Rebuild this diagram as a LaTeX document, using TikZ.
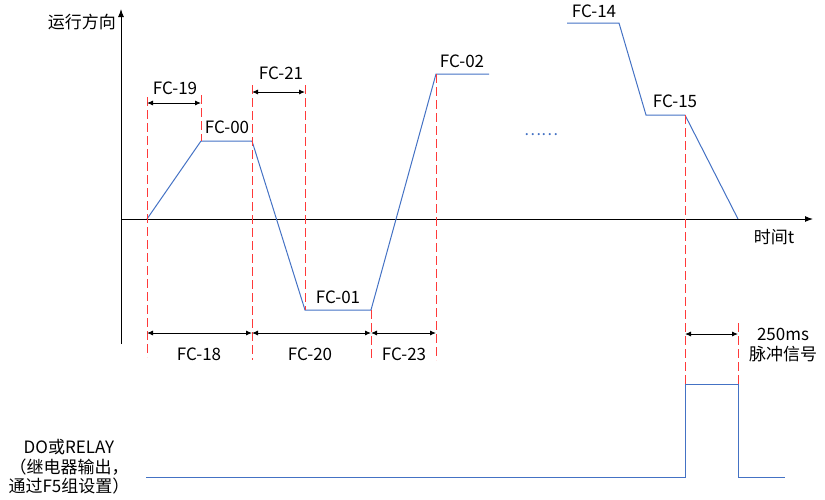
\documentclass[tikz,border=0pt]{standalone}
\usepackage{fontspec}
\setmainfont{Noto Sans CJK SC}
\usetikzlibrary{arrows.meta}
\definecolor{wave}{HTML}{4472C4}
\definecolor{guide}{HTML}{FF3A3A}
\begin{document}
\begin{tikzpicture}[x=1pt,y=-1pt,
  lbl/.style={font=\fontsize{17}{19.5}\selectfont, inner sep=0pt},
  wavel/.style={draw=wave, line width=1pt},
  guideline/.style={draw=guide, line width=0.9pt, dash pattern=on 9pt off 4pt},
  axisl/.style={draw=black, line width=1pt, -{Latex[length=8pt,width=6pt]}},
  dimline/.style={draw=black, line width=0.9pt, {Latex[length=6pt,width=5pt]}-{Latex[length=6pt,width=5pt]}}]
\useasboundingbox (0,0) rectangle (825,499);

% axes
\coordinate (o) at (121,219);
\coordinate (ytop) at (121,9);
\coordinate (ybot) at (121,344);
\coordinate (xend) at (813,219);
\draw[axisl] (ybot) -- (ytop);
\draw[axisl] (o) -- (xend);
\node[lbl, anchor=east] (ylab) at (116,22) {运行方向};
\node[lbl] (xlab) at (774,237) {时间t};

% speed waveform
\coordinate (w0) at (147,219);
\coordinate (w1) at (201,141);
\coordinate (w2) at (252,141);
\coordinate (w3) at (305,310);
\coordinate (w4) at (371,310);
\coordinate (w5) at (436,74);
\coordinate (w6) at (489,74);
\draw[wavel] (w0) -- (w1) -- (w2) -- (w3) -- (w4) -- (w5) -- (w6);
\coordinate (v0) at (567,23);
\coordinate (v1) at (619,23);
\coordinate (v2) at (646,115);
\coordinate (v3) at (685,115);
\coordinate (v4) at (738,219);
\draw[wavel] (v0) -- (v1) -- (v2) -- (v3) -- (v4);
\node[lbl, text=wave, font=\fontsize{16}{18}\selectfont] (dots) at (541,135) {……};

% guide lines
\coordinate (g1a) at (147,97);  \coordinate (g1b) at (147,357);
\coordinate (g2a) at (201,95);  \coordinate (g2b) at (201,141);
\coordinate (g3a) at (252,85);  \coordinate (g3b) at (252,360);
\coordinate (g4a) at (305,85);  \coordinate (g4b) at (305,310);
\coordinate (g5a) at (371,310); \coordinate (g5b) at (371,360);
\coordinate (g6a) at (436,74);  \coordinate (g6b) at (436,360);
\coordinate (g7a) at (685,115); \coordinate (g7b) at (685,390);
\coordinate (g8a) at (738,323); \coordinate (g8b) at (738,395);
\foreach \g in {1,...,8} \draw[guideline] (g\g a) -- (g\g b);

% dimension arrows
\coordinate (d19a) at (147,103); \coordinate (d19b) at (201,103);
\coordinate (d21a) at (252,92);  \coordinate (d21b) at (305,92);
\coordinate (d18a) at (147,333); \coordinate (d18b) at (252,333);
\coordinate (d20a) at (252,333); \coordinate (d20b) at (371,333);
\coordinate (d23a) at (371,333); \coordinate (d23b) at (436,333);
\coordinate (dpa) at (685,334);  \coordinate (dpb) at (738,334);
\draw[dimline] (d19a) -- (d19b);
\draw[dimline] (d21a) -- (d21b);
\draw[dimline] (d18a) -- (d18b);
\draw[dimline] (d20a) -- (d20b);
\draw[dimline] (d23a) -- (d23b);
\draw[dimline] (dpa) -- (dpb);

% labels
\node[lbl] (l19) at (175,88) {FC-19};
\node[lbl] (l00) at (227,127) {FC-00};
\node[lbl] (l21) at (281,73) {FC-21};
\node[lbl] (l01) at (338,297) {FC-01};
\node[lbl] (l02) at (462,61) {FC-02};
\node[lbl] (l14) at (594,11) {FC-14};
\node[lbl] (l15) at (675,101) {FC-15};
\node[lbl] (l18) at (199,354) {FC-18};
\node[lbl] (l20) at (310,354) {FC-20};
\node[lbl] (l23) at (404,354) {FC-23};
\node[lbl, align=center] (lp) at (783,345) {250ms\\脉冲信号};

% relay pulse
\coordinate (p0) at (146,477);
\coordinate (p1) at (685,477);
\coordinate (p2) at (685,384);
\coordinate (p3) at (738,384);
\coordinate (p4) at (738,477);
\coordinate (p5) at (785,477);
\draw[wavel] (p0) -- (p1) -- (p2) -- (p3) -- (p4) -- (p5);
\node[lbl, align=center] (relay) at (69,467) {DO或RELAY\\（继电器输出，\\通过F5组设置）};
\end{tikzpicture}
\end{document}
